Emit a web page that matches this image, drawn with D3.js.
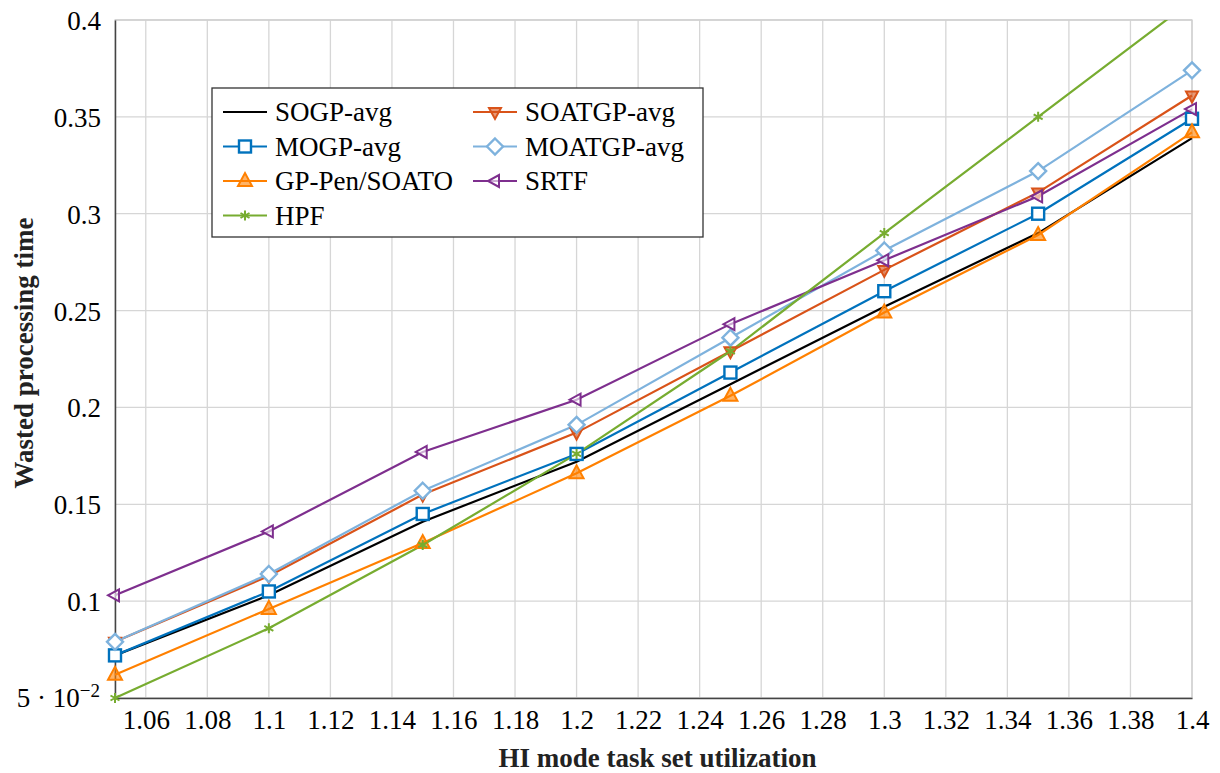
<!DOCTYPE html>
<html>
<head>
<meta charset="utf-8">
<script src="https://cdn.jsdelivr.net/npm/d3@7"></script>
<style>
  body { margin: 0; background: #fff; }
  svg text { font-family: "Liberation Serif", "DejaVu Serif", serif; }
</style>
</head>
<body>
<div id="chart"></div>
<script>
// x values (HI mode task set utilization)
var xs = [1.05, 1.1, 1.15, 1.2, 1.25, 1.3, 1.35, 1.4];

var sogp    = [0.072, 0.103, 0.141, 0.172, 0.212, 0.252, 0.290, 0.339];
var soatgp  = [0.079, 0.113, 0.155, 0.187, 0.229, 0.271, 0.311, 0.361];
var mogp    = [0.072, 0.105, 0.145, 0.176, 0.218, 0.260, 0.300, 0.349];
var moatgp  = [0.079, 0.114, 0.157, 0.191, 0.236, 0.281, 0.322, 0.374];
var gppen   = [0.062, 0.096, 0.130, 0.166, 0.206, 0.249, 0.289, 0.342];
var srtf    = [0.103, 0.136, 0.177, 0.204, 0.243, 0.276, 0.309, 0.354];
var hpf     = [0.050, 0.086, 0.129, 0.176, 0.229, 0.290, 0.350, 0.410];

var xTicks = [1.06, 1.08, 1.1, 1.12, 1.14, 1.16, 1.18, 1.2, 1.22, 1.24, 1.26, 1.28, 1.3, 1.32, 1.34, 1.36, 1.38, 1.4];
var yTicks = [0.05, 0.1, 0.15, 0.2, 0.25, 0.3, 0.35, 0.4];

var series = [
  {name: "SOGP-avg",     values: sogp,   color: "#000000", mark: "none"},
  {name: "SOATGP-avg",   values: soatgp, color: "#d95319", mark: "tridown"},
  {name: "MOGP-avg",     values: mogp,   color: "#0072bd", mark: "square"},
  {name: "MOATGP-avg",   values: moatgp, color: "#7eb2dd", mark: "diamond"},
  {name: "GP-Pen/SOATO", values: gppen,  color: "#ff8000", mark: "triup"},
  {name: "SRTF",         values: srtf,   color: "#7e2f8e", mark: "trileft"},
  {name: "HPF",          values: hpf,    color: "#77ac30", mark: "star"}
];

var serif = "'Liberation Serif', 'DejaVu Serif', serif";

var margin = {top: 20, right: 28, bottom: 75, left: 115},
    width = 1220 - margin.left - margin.right,
    height = 773 - margin.top - margin.bottom;

var x = d3.scaleLinear().domain([1.05, 1.4]).range([0, width]);
var y = d3.scaleLinear().domain([0.05, 0.4]).range([height, 0]);

var svg = d3.select("#chart").append("svg")
    .attr("width", 1220)
    .attr("height", 773)
    .attr("font-family", serif)
  .append("g")
    .attr("transform", "translate(" + margin.left + "," + margin.top + ")");

svg.append("clipPath").attr("id", "clip")
  .append("rect").attr("x", -10).attr("y", 0).attr("width", width + 20).attr("height", height + 10);

// grid
svg.append("g").selectAll("line").data(xTicks).enter().append("line")
  .attr("x1", function(d) { return x(d); }).attr("x2", function(d) { return x(d); })
  .attr("y1", 0).attr("y2", height)
  .attr("stroke", "#d6d6d6").attr("stroke-width", 1.3);
svg.append("g").selectAll("line").data(yTicks).enter().append("line")
  .attr("x1", 0).attr("x2", width)
  .attr("y1", function(d) { return y(d); }).attr("y2", function(d) { return y(d); })
  .attr("stroke", "#d6d6d6").attr("stroke-width", 1.3);

// frame
svg.append("rect").attr("width", width).attr("height", height)
  .attr("fill", "none").attr("stroke", "#cfcfcf").attr("stroke-width", 1.3);

// axes
var fmtX = function(d) { return d3.format(".2f")(d).replace(/0$/, ""); };
var xAxis = svg.append("g")
  .attr("transform", "translate(0," + height + ")")
  .call(d3.axisBottom(x).tickValues(xTicks).tickFormat(fmtX).tickSize(0).tickPadding(12));
var yAxis = svg.append("g")
  .call(d3.axisLeft(y).tickValues(yTicks).tickFormat(function(d) { return d === 0.05 ? "" : d3.format("")(+d.toFixed(2)); }).tickSize(0).tickPadding(14));
[xAxis, yAxis].forEach(function(a) {
  a.attr("font-family", serif);
  a.selectAll("text").attr("font-size", 27).attr("fill", "#000")
    .attr("font-family", serif);
  a.select(".domain").attr("stroke", "#444").attr("stroke-width", 1.5);
});
yAxis.selectAll("text").attr("dy", "0.35em");

// 5·10^-2 label
var t5 = svg.append("text").attr("x", -15).attr("y", y(0.05) + 9)
  .attr("text-anchor", "end").attr("font-size", 27);
t5.append("tspan").text("5 \u00b7 10");
t5.append("tspan").attr("dy", -10).attr("font-size", 19).text("\u22122");

// axis titles
svg.append("text")
  .attr("x", width / 2 + 4).attr("y", height + 69)
  .attr("text-anchor", "middle").attr("font-size", 27).attr("font-weight", "bold")
  .attr("fill", "#222")
  .text("HI mode task set utilization");
svg.append("text")
  .attr("transform", "translate(-82," + (height / 2 - 6) + ") rotate(-90)")
  .attr("text-anchor", "middle").attr("font-size", 27).attr("font-weight", "bold")
  .attr("fill", "#222")
  .text("Wasted processing time");

// markers
function drawMark(g, type, color) {
  var s = 7;
  if (type === "square") {
    g.append("rect").attr("x", -s + 1).attr("y", -s + 1).attr("width", 2 * s - 2).attr("height", 2 * s - 2)
      .attr("fill", "#fff").attr("stroke", color).attr("stroke-width", 2.4);
  } else if (type === "diamond") {
    g.append("path").attr("d", "M0,-8L8,0L0,8L-8,0Z")
      .attr("fill", "#fff").attr("stroke", color).attr("stroke-width", 2.4);
  } else if (type === "tridown") {
    g.append("path").attr("d", "M-6,-4L6,-4L0,7Z")
      .attr("fill", color).attr("fill-opacity", 0.6).attr("stroke", color).attr("stroke-width", 2);
  } else if (type === "triup") {
    g.append("path").attr("d", "M-7,5L7,5L0,-8Z")
      .attr("fill", color).attr("fill-opacity", 0.6).attr("stroke", color).attr("stroke-width", 2);
  } else if (type === "trileft") {
    g.append("path").attr("d", "M4,-6L4,6L-7,0Z")
      .attr("fill", "#fff").attr("fill-opacity", 0.6).attr("stroke", color).attr("stroke-width", 2);
  } else if (type === "star") {
    g.append("path").attr("d", "M0,-5L0,5M-4.5,-2.5L4.5,2.5M-4.5,2.5L4.5,-2.5")
      .attr("stroke", color).attr("stroke-width", 2);
  }
}

var line = d3.line()
  .x(function(d, i) { return x(xs[i]); })
  .y(function(d) { return y(d); });

var plot = svg.append("g").attr("clip-path", "url(#clip)");
series.forEach(function(s) {
  plot.append("path").datum(s.values)
    .attr("fill", "none").attr("stroke", s.color).attr("stroke-width", 2.2)
    .attr("d", line);
});
series.forEach(function(s) {
  if (s.mark === "none") return;
  s.values.forEach(function(v, i) {
    if (v > 0.4) return;
    var g = plot.append("g").attr("transform", "translate(" + x(xs[i]) + "," + y(v) + ")");
    drawMark(g, s.mark, s.color);
  });
});

// legend (two columns, filled row by row)
var legend = svg.append("g").attr("transform", "translate(" + (212 - margin.left) + "," + (88 - margin.top) + ")");
legend.append("rect").attr("width", 491).attr("height", 149)
  .attr("fill", "#fff").attr("stroke", "#333").attr("stroke-width", 1.3);
series.forEach(function(s, i) {
  var col = i % 2;
  var row = Math.floor(i / 2);
  var lx = col === 0 ? 11 : 261;
  var ly = 24 + row * 34.5;
  var g = legend.append("g").attr("transform", "translate(" + lx + "," + ly + ")");
  g.append("line").attr("x1", 0).attr("x2", 44).attr("stroke", s.color).attr("stroke-width", 2.2);
  if (s.mark !== "none") {
    var m = g.append("g").attr("transform", "translate(22,0)");
    drawMark(m, s.mark, s.color);
  }
  g.append("text").attr("x", 52).attr("y", 0).attr("dy", "0.35em")
    .attr("font-size", 27).text(s.name);
});
</script>
</body>
</html>
